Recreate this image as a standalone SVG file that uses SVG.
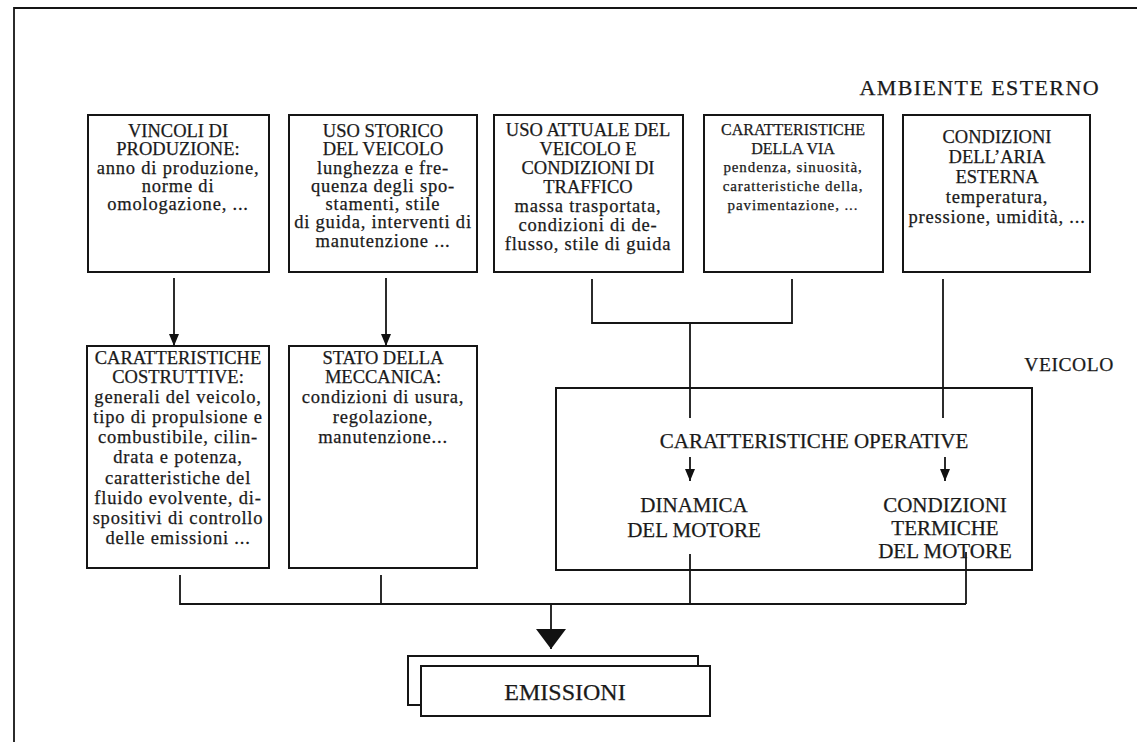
<svg xmlns="http://www.w3.org/2000/svg" width="1137" height="742" viewBox="0 0 1137 742">
  <defs>
    <marker id="tip" markerWidth="10" markerHeight="12" refX="5" refY="12" markerUnits="userSpaceOnUse" viewBox="0 0 10 12">
      <path d="M0,0 L10,0 L5,12 Z" fill="#111"/>
    </marker>
    <marker id="bigtip" markerWidth="30" markerHeight="20" refX="15" refY="20" markerUnits="userSpaceOnUse" viewBox="0 0 30 20">
      <path d="M0,0 L30,0 L15,20 Z" fill="#111"/>
    </marker>
  </defs>
  <style>
    .box { fill: #fff; stroke: #151515; stroke-width: 2; }
    .wire { fill: none; stroke: #151515; stroke-width: 1.8; }
    text { font-family: "Liberation Serif", "Times New Roman", serif; fill: #1a1a1a; stroke: #1a1a1a; stroke-width: 0.25; text-anchor: middle; }
    .cap { font-size: 18.5px; }
    .low { font-size: 18.5px; letter-spacing: 0.8px; }
    .capS { font-size: 16px; }
    .lowS { font-size: 15px; letter-spacing: 0.9px; }
    .head { font-size: 22px; letter-spacing: 1.4px; text-anchor: end; }
    .op { font-size: 21px; }
  </style>

  <rect width="1137" height="742" fill="#fff"/>

  <!-- page frame -->
  <path class="wire" d="M14,742 L14,8 L1137,8" stroke-width="2"/>

  <text id="label-ambiente" class="head" x="1100" y="95">AMBIENTE ESTERNO</text>
  <text id="label-veicolo" class="head" x="1114" y="371" style="font-size:19.5px;letter-spacing:0.6px">VEICOLO</text>

  <g id="vincoli">
    <rect class="box" x="88" y="115" width="181" height="157"/>
    <text class="cap" x="178" y="137">VINCOLI DI</text>
    <text class="cap" x="178" y="155">PRODUZIONE:</text>
    <text class="low" x="178" y="174">anno di produzione,</text>
    <text class="low" x="178" y="192">norme di</text>
    <text class="low" x="178" y="210">omologazione, ...</text>
  </g>

  <g id="uso-storico">
    <rect class="box" x="289" y="115" width="188" height="157"/>
    <text class="cap" x="383" y="137">USO STORICO</text>
    <text class="cap" x="383" y="155">DEL VEICOLO</text>
    <text class="low" x="383" y="174">lunghezza e fre-</text>
    <text class="low" x="383" y="192">quenza degli spo-</text>
    <text class="low" x="383" y="210">stamenti, stile</text>
    <text class="low" x="383" y="228">di guida, interventi di</text>
    <text class="low" x="383" y="247">manutenzione ...</text>
  </g>

  <g id="uso-attuale">
    <rect class="box" x="494" y="115" width="189" height="157"/>
    <text class="cap" x="588" y="136">USO ATTUALE DEL</text>
    <text class="cap" x="588" y="155">VEICOLO E</text>
    <text class="cap" x="588" y="174">CONDIZIONI DI</text>
    <text class="cap" x="588" y="193">TRAFFICO</text>
    <text class="low" x="588" y="212">massa trasportata,</text>
    <text class="low" x="588" y="231">condizioni di de-</text>
    <text class="low" x="588" y="250">flusso, stile di guida</text>
  </g>

  <g id="via">
    <rect class="box" x="704" y="115" width="179" height="157"/>
    <text class="capS" x="793" y="135">CARATTERISTICHE</text>
    <text class="capS" x="793" y="154">DELLA VIA</text>
    <text class="lowS" x="793" y="172">pendenza, sinuosità,</text>
    <text class="lowS" x="793" y="191">caratteristiche della,</text>
    <text class="lowS" x="793" y="210">pavimentazione, ...</text>
  </g>

  <g id="aria">
    <rect class="box" x="903" y="115" width="187" height="157"/>
    <text class="cap" x="997" y="143">CONDIZIONI</text>
    <text class="cap" x="997" y="163">DELL’ARIA</text>
    <text class="cap" x="997" y="183">ESTERNA</text>
    <text class="low" x="997" y="203">temperatura,</text>
    <text class="low" x="997" y="223">pressione, umidità, ...</text>
  </g>

  <g id="costruttive">
    <rect class="box" x="87" y="346" width="182" height="222"/>
    <text class="cap" x="178" y="364">CARATTERISTICHE</text>
    <text class="cap" x="178" y="383">COSTRUTTIVE:</text>
    <text class="low" x="178" y="403">generali del veicolo,</text>
    <text class="low" x="178" y="423">tipo di propulsione e</text>
    <text class="low" x="178" y="443">combustibile, cilin-</text>
    <text class="low" x="178" y="463">drata e potenza,</text>
    <text class="low" x="178" y="484">caratteristiche del</text>
    <text class="low" x="178" y="504">fluido evolvente, di-</text>
    <text class="low" x="178" y="524">spositivi di controllo</text>
    <text class="low" x="178" y="544">delle emissioni ...</text>
  </g>

  <g id="meccanica">
    <rect class="box" x="289" y="346" width="188" height="222"/>
    <text class="cap" x="383" y="364">STATO DELLA</text>
    <text class="cap" x="383" y="383">MECCANICA:</text>
    <text class="low" x="383" y="403">condizioni di usura,</text>
    <text class="low" x="383" y="423">regolazione,</text>
    <text class="low" x="383" y="443">manutenzione...</text>
  </g>

  <g id="veicolo">
    <rect class="box" x="556" y="388" width="476" height="182"/>
    <text class="op" x="814" y="448">CARATTERISTICHE OPERATIVE</text>
    <text class="op" x="694" y="512">DINAMICA</text>
    <text class="op" x="694" y="537">DEL MOTORE</text>
    <text class="op" x="945" y="512">CONDIZIONI</text>
    <text class="op" x="945" y="535">TERMICHE</text>
    <text class="op" x="945" y="558">DEL MOTORE</text>
  </g>

  <g id="emissioni">
    <rect class="box" x="408" y="656" width="290" height="49"/>
    <rect class="box" x="421" y="666" width="289" height="50"/>
    <text x="565" y="700" font-size="24">EMISSIONI</text>
  </g>

  <g id="connectors">
    <line class="wire" x1="174" y1="278" x2="174" y2="346" marker-end="url(#tip)"/>
    <line class="wire" x1="386" y1="278" x2="386" y2="346" marker-end="url(#tip)"/>
    <path class="wire" d="M592,279 L592,323 L792,323 L792,279"/>
    <line class="wire" x1="690" y1="323" x2="690" y2="418"/>
    <line class="wire" x1="943" y1="279" x2="943" y2="418"/>
    <line class="wire" x1="690" y1="457" x2="690" y2="481" marker-end="url(#tip)"/>
    <line class="wire" x1="945" y1="457" x2="945" y2="481" marker-end="url(#tip)"/>
    <path class="wire" d="M180,575 L180,604 L966,604"/>
    <line class="wire" x1="381" y1="575" x2="381" y2="604"/>
    <line class="wire" x1="690" y1="554" x2="690" y2="604"/>
    <line class="wire" x1="966" y1="552" x2="966" y2="604"/>
    <line class="wire" x1="551" y1="604" x2="551" y2="649" marker-end="url(#bigtip)"/>
  </g>
</svg>
